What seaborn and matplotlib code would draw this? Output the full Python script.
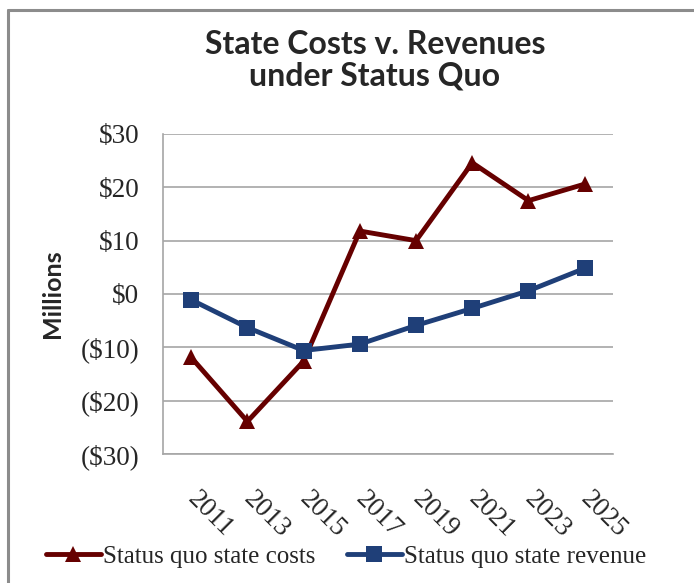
import pandas as pd
import seaborn as sns
import matplotlib.pyplot as plt
from matplotlib.lines import Line2D

years = ["2011", "2013", "2015", "2017", "2019", "2021", "2023", "2025"]
state_costs = [-11.9, -23.9, -12.6, 11.8, 10.0, 24.6, 17.5, 20.6]
state_revenue = [-1.1, -6.3, -10.6, -9.4, -5.9, -2.7, 0.6, 4.8]
y_ticks = [-30, -20, -10, 0, 10, 20, 30]
y_labels = ["($30)", "($20)", "($10)", "$0", "$10", "$20", "$30"]

cost_name = "Status quo state costs"
rev_name = "Status quo state revenue"

df = pd.DataFrame({
    "year": years * 2,
    "value": state_costs + state_revenue,
    "series": [cost_name] * len(years) + [rev_name] * len(years),
})

sns.set_style("white")
plt.rcParams["font.family"] = ["Liberation Serif", "DejaVu Serif"]

colors = {cost_name: "#660000", rev_name: "#1f3f78"}
markers = {cost_name: "^", rev_name: "s"}

fig = plt.figure(figsize=(6.94, 5.83), dpi=100)
ax = fig.add_axes([0.235, 0.2213, 0.648, 0.5489])

sns.lineplot(data=df, x="year", y="value", hue="series", style="series",
             palette=colors, markers=markers, dashes=False, linewidth=3.5,
             markersize=12, markeredgewidth=0, sort=False, legend=False, ax=ax)

ax.set_xlim(-0.5, len(years) - 0.5)
ax.set_ylim(-30, 30)
ax.set_yticks(y_ticks)
ax.set_yticklabels(y_labels, fontsize=19.5)
ax.yaxis.grid(True, color="#a6a6a6", linewidth=1.2)
ax.set_axisbelow(True)
for s in ["top", "right"]:
    ax.spines[s].set_visible(False)
for s in ["left", "bottom"]:
    ax.spines[s].set_color("#a6a6a6")
    ax.spines[s].set_linewidth(1.2)
ax.tick_params(axis="both", length=0)
ax.tick_params(axis="y", pad=17)
ax.set_xlabel("")
ax.set_ylabel("Millions", fontsize=18, fontweight="bold",
              family=["Lato", "DejaVu Sans"], labelpad=12)
ax.set_xticks(range(len(years)))
ax.set_xticklabels(years, fontsize=19.5, rotation=-45, ha="left", va="center",
                   rotation_mode="anchor")
ax.tick_params(axis="x", pad=30)

fig.text(0.54, 0.897, "State Costs v. Revenues\nunder Status Quo",
         ha="center", va="center", fontsize=23, fontweight="bold",
         family=["Lato", "DejaVu Sans"], linespacing=1.1)

handles = [
    Line2D([], [], color=colors[cost_name], marker="^", linewidth=3.5,
           markersize=12, markeredgewidth=0),
    Line2D([], [], color=colors[rev_name], marker="s", linewidth=3.5,
           markersize=12, markeredgewidth=0),
]
fig.legend(handles, [cost_name, rev_name], loc="center",
           bbox_to_anchor=(0.499, 0.045), ncol=2, frameon=False,
           fontsize=18, handlelength=2.2, handletextpad=0.1,
           columnspacing=1.25)

# outer chart frame
fig.add_artist(Line2D([0.011, 0.011], [0.0, 0.983], color="#8c8c8c",
                      linewidth=2.2, transform=fig.transFigure))
fig.add_artist(Line2D([0.011, 1.0], [0.983, 0.983], color="#8c8c8c",
                      linewidth=2.2, transform=fig.transFigure))

fig.savefig("out.png", dpi=100)
